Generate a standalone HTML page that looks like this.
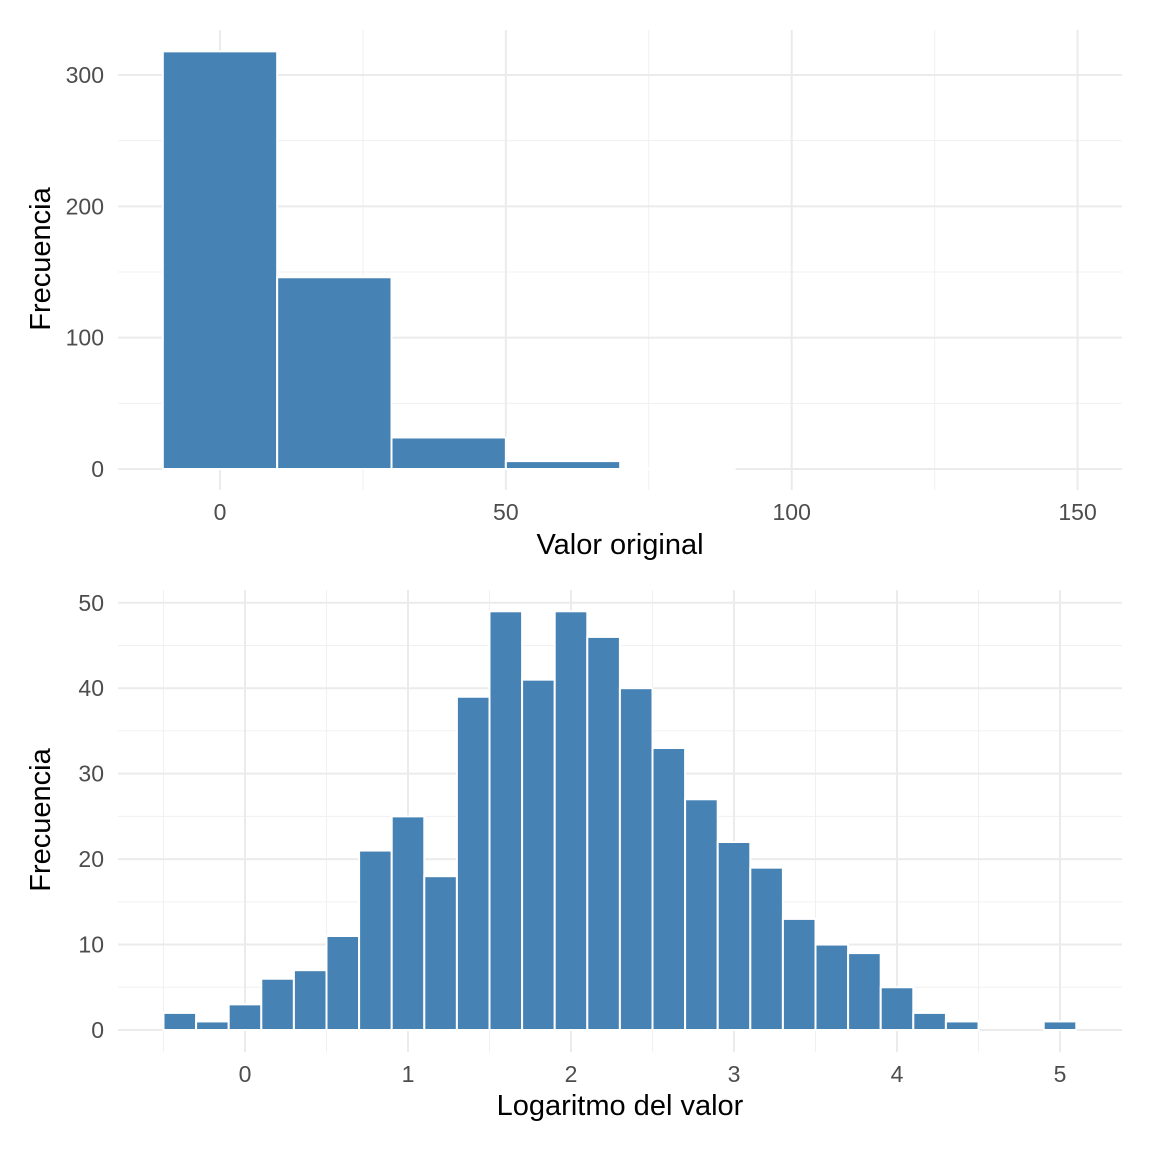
<!DOCTYPE html>
<html><head><meta charset="utf-8"><style>
html,body{margin:0;padding:0;background:#fff;}
text{font-family:"Liberation Sans",sans-serif;}
</style></head><body>
<svg id="s" width="1152" height="1152" xmlns="http://www.w3.org/2000/svg">
<rect width="1152" height="1152" fill="#fff"/>
<g id="g"></g>
</svg>
<script>
const g=document.getElementById('g');let h='';
function L(x1,y1,x2,y2,w,c){h+=`<line x1="${x1}" y1="${y1}" x2="${x2}" y2="${y2}" stroke="${c}" stroke-width="${w}"/>`;}
function T(x,y,t,a,s,c,ex=''){h+=`<text x="${x}" y="${y}" text-anchor="${a}" font-size="${s}" fill="${c}" ${ex}>${t}</text>`;}
function R(x,y,w,hh){h+=`<rect x="${x}" y="${y}" width="${w}" height="${hh}" fill="#4682b4" stroke="#fff" stroke-width="2"/>`;}
// TOP
let X0=118,X1=1122,Y0=30,Y1=490;
const tx=v=>220+v*5.717, ty=v=>469-v*1.3133;
[25,75,125].forEach(v=>L(tx(v),Y0,tx(v),Y1,1,'#f0f0f0'));
[50,150,250].forEach(v=>L(X0,ty(v),X1,ty(v),1,'#f0f0f0'));
[0,50,100,150].forEach(v=>L(tx(v),Y0,tx(v),Y1,2,'#ebebeb'));
[0,100,200,300].forEach(v=>L(X0,ty(v),X1,ty(v),2,'#ebebeb'));
[[-10,318],[10,146],[30,24],[50,6],[70,0.5]].forEach(([a,c])=>R(tx(a),ty(c),tx(a+20)-tx(a),ty(0)-ty(c)));
[0,50,100,150].forEach(v=>T(tx(v),520,v,'middle',23,'#4d4d4d'));
[0,100,200,300].forEach(v=>T(104,ty(v)+8,v,'end',23,'#4d4d4d'));
T(620,554,'Valor original','middle',29,'#000');
T(50,259,'Frecuencia','middle',29,'#000','transform="rotate(-90 50 259)"');
// BOTTOM
Y0=590;Y1=1052;
const bx=v=>245+v*163, by=v=>1030-v*8.545;
[-0.5,0.5,1.5,2.5,3.5,4.5].forEach(v=>L(bx(v),Y0,bx(v),Y1,1,'#f0f0f0'));
[5,15,25,35,45].forEach(v=>L(X0,by(v),X1,by(v),1,'#f0f0f0'));
[0,1,2,3,4,5].forEach(v=>L(bx(v),Y0,bx(v),Y1,2,'#ebebeb'));
[0,10,20,30,40,50].forEach(v=>L(X0,by(v),X1,by(v),2,'#ebebeb'));
const c=[2,1,3,6,7,11,21,25,18,39,49,41,49,46,40,33,27,22,19,13,10,9,5,2,1,0,0,1];
c.forEach((n,i)=>{if(n>0){const a=-0.5+i*0.2;R(bx(a),by(n),bx(a+0.2)-bx(a),by(0)-by(n));}});
[0,1,2,3,4,5].forEach(v=>T(bx(v),1082,v,'middle',23,'#4d4d4d'));
[0,10,20,30,40,50].forEach(v=>T(104,by(v)+8,v,'end',23,'#4d4d4d'));
T(620,1115,'Logaritmo del valor','middle',29,'#000');
T(50,820,'Frecuencia','middle',29,'#000','transform="rotate(-90 50 820)"');
g.innerHTML=h;
</script>
</body></html>
